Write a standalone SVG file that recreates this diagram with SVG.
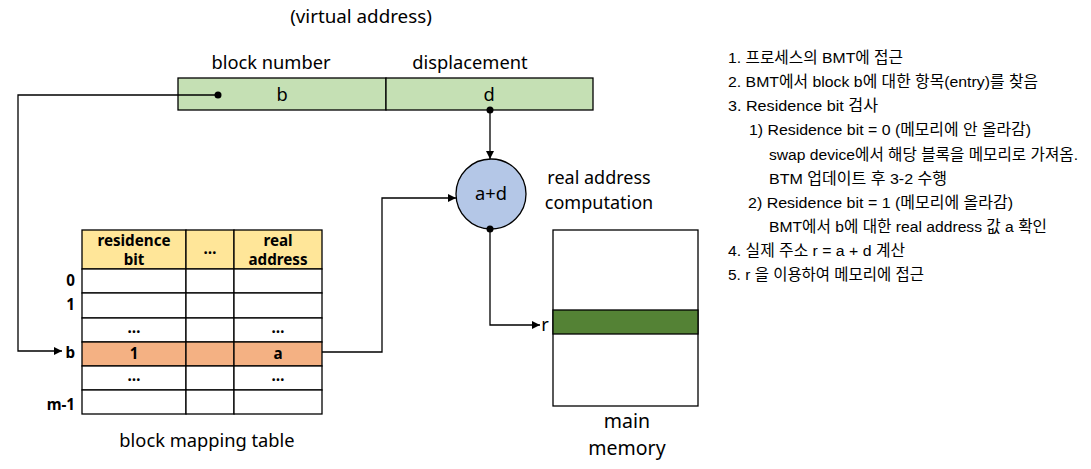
<svg xmlns="http://www.w3.org/2000/svg" width="1091" height="469" viewBox="0 0 1091 469">
<style>
text{font-family:"Noto Sans","Noto Sans CJK KR",sans-serif;fill:#000}
.lbl{font-size:18.3px}
.two{font-size:18px}
.big{font-size:19.5px}
.th{font-size:15.2px;font-weight:bold}
.kr{font-family:"Liberation Sans","Noto Sans CJK KR",sans-serif;font-size:15.5px}
.box{stroke:#000;stroke-width:1.3}
.cell{fill:#fff;stroke:#000;stroke-width:1.3}
.con{fill:none;stroke:#000;stroke-width:1.3}
</style>
<defs>
<marker id="ah" viewBox="0 0 10 10" refX="10" refY="5" markerWidth="8" markerHeight="8" markerUnits="userSpaceOnUse" orient="auto"><path d="M0,0 L10,5 L0,10 z" fill="#000"/></marker>
</defs>
<text class="lbl" x="361" y="23" text-anchor="middle" style="font-size:18.8px">(virtual address)</text>
<g id="virtual-address">
<text class="lbl" x="271" y="69" text-anchor="middle">block number</text>
<text class="lbl" x="470" y="69" text-anchor="middle">displacement</text>
<rect class="box" x="178" y="78" width="208" height="32" fill="#c5e0b4"/>
<rect class="box" x="386" y="78" width="207" height="32" fill="#c5e0b4"/>
<text class="lbl" x="282" y="101" text-anchor="middle">b</text>
<text class="lbl" x="489" y="101" text-anchor="middle">d</text>
</g>
<g id="adder">
<circle cx="491" cy="194" r="35" fill="#b4c7e7" stroke="#000" stroke-width="1.3"/>
<text class="lbl" x="491" y="200" text-anchor="middle">a+d</text>
<text class="two" text-anchor="middle"><tspan x="599" y="184">real address</tspan><tspan x="599" y="209">computation</tspan></text>
</g>
<g id="main-memory">
<rect class="cell" x="553" y="230" width="145" height="176"/>
<rect class="box" x="553" y="310" width="145" height="24" fill="#548235"/>
<text class="lbl" x="545" y="331" text-anchor="middle">r</text>
<text class="big" text-anchor="middle"><tspan x="627" y="428">main</tspan><tspan x="627" y="455">memory</tspan></text>
</g>
<g id="block-mapping-table">
<rect class="box" x="82" y="230" width="104" height="39" fill="#ffe699"/>
<rect class="box" x="186" y="230" width="48" height="39" fill="#ffe699"/>
<rect class="box" x="234" y="230" width="88" height="39" fill="#ffe699"/>
<text class="th" text-anchor="middle"><tspan x="134" y="246">residence</tspan><tspan x="134" y="265">bit</tspan></text>
<text class="th" x="210" y="254" text-anchor="middle">…</text>
<text class="th" text-anchor="middle"><tspan x="278" y="246">real</tspan><tspan x="278" y="265">address</tspan></text>
<rect class="cell" x="82" y="269" width="104" height="24"/><rect class="cell" x="186" y="269" width="48" height="24"/><rect class="cell" x="234" y="269" width="88" height="24"/>
<rect class="cell" x="82" y="293" width="104" height="25"/><rect class="cell" x="186" y="293" width="48" height="25"/><rect class="cell" x="234" y="293" width="88" height="25"/>
<rect class="cell" x="82" y="318" width="104" height="24"/><rect class="cell" x="186" y="318" width="48" height="24"/><rect class="cell" x="234" y="318" width="88" height="24"/>
<rect class="box" x="82" y="342" width="104" height="24" fill="#f4b183"/><rect class="box" x="186" y="342" width="48" height="24" fill="#f4b183"/><rect class="box" x="234" y="342" width="88" height="24" fill="#f4b183"/>
<rect class="cell" x="82" y="366" width="104" height="24"/><rect class="cell" x="186" y="366" width="48" height="24"/><rect class="cell" x="234" y="366" width="88" height="24"/>
<rect class="cell" x="82" y="390" width="104" height="24"/><rect class="cell" x="186" y="390" width="48" height="24"/><rect class="cell" x="234" y="390" width="88" height="24"/>
<text class="th" x="134" y="333" text-anchor="middle">…</text>
<text class="th" x="278" y="333" text-anchor="middle">…</text>
<text class="th" x="134" y="359" text-anchor="middle">1</text>
<text class="th" x="278" y="359" text-anchor="middle">a</text>
<text class="th" x="134" y="381" text-anchor="middle">…</text>
<text class="th" x="278" y="381" text-anchor="middle">…</text>
<text class="th" x="75" y="286" text-anchor="end">0</text>
<text class="th" x="75" y="310" text-anchor="end">1</text>
<text class="th" x="75" y="358" text-anchor="end">b</text>
<text class="th" x="75" y="410" text-anchor="end">m-1</text>
<text class="lbl" x="207" y="447" text-anchor="middle">block mapping table</text>
</g>
<g id="connectors">
<path class="con" d="M218,95 H18 V351 H62" marker-end="url(#ah)"/>
<circle cx="218" cy="95" r="3.5"/>
<path class="con" d="M490,110 V159" marker-end="url(#ah)"/>
<circle cx="490" cy="110" r="3.5"/>
<path class="con" d="M322,352 H382 V198 H456" marker-end="url(#ah)"/>
<path class="con" d="M490,229 V325 H540" marker-end="url(#ah)"/>
<circle cx="490" cy="229" r="3.5"/>
</g>
<g id="steps">
<text class="kr" x="728" y="63" textLength="175" lengthAdjust="spacingAndGlyphs">1. 프로세스의 BMT에 접근</text>
<text class="kr" x="728" y="87" textLength="310" lengthAdjust="spacingAndGlyphs">2. BMT에서 block b에 대한 항목(entry)를 찾음</text>
<text class="kr" x="728" y="111" textLength="150" lengthAdjust="spacingAndGlyphs">3. Residence bit 검사</text>
<text class="kr" x="749" y="135" textLength="282" lengthAdjust="spacingAndGlyphs">1) Residence bit = 0 (메모리에 안 올라감)</text>
<text class="kr" x="769" y="160" textLength="309" lengthAdjust="spacingAndGlyphs">swap device에서 해당 블록을 메모리로 가져옴.</text>
<text class="kr" x="769" y="184" textLength="178" lengthAdjust="spacingAndGlyphs">BTM 업데이트 후 3-2 수행</text>
<text class="kr" x="748" y="208" textLength="265" lengthAdjust="spacingAndGlyphs">2) Residence bit = 1 (메모리에 올라감)</text>
<text class="kr" x="769" y="232" textLength="278" lengthAdjust="spacingAndGlyphs">BMT에서 b에 대한 real address 값 a 확인</text>
<text class="kr" x="728" y="256" textLength="177" lengthAdjust="spacingAndGlyphs">4. 실제 주소 r = a + d 계산</text>
<text class="kr" x="728" y="280" textLength="196" lengthAdjust="spacingAndGlyphs">5. r 을 이용하여 메모리에 접근</text>
</g>
</svg>
